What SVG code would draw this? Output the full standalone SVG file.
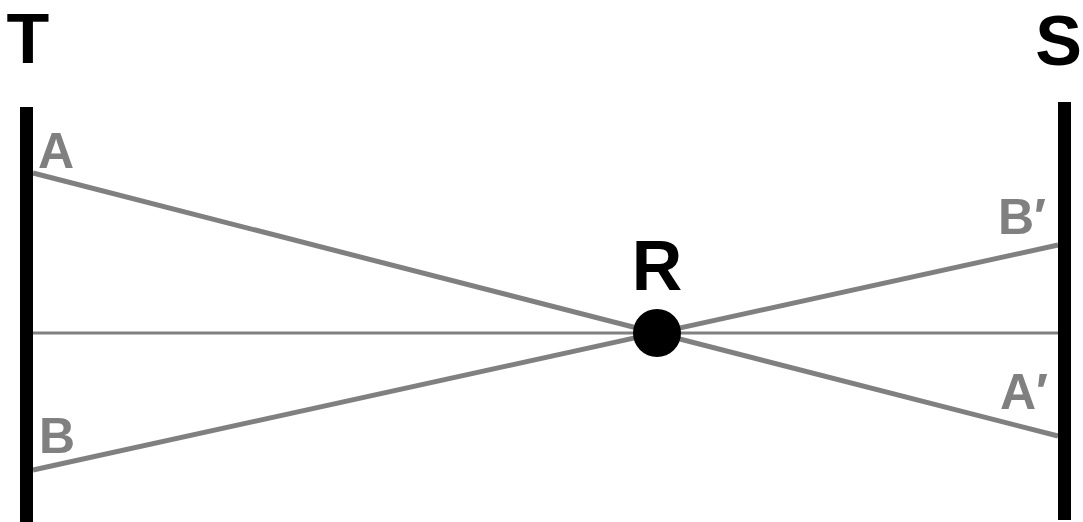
<svg xmlns="http://www.w3.org/2000/svg" width="1083" height="522" viewBox="0 0 1083 522">
<style>
.big{font-family:"Liberation Sans","DejaVu Sans",sans-serif;font-weight:bold;font-size:70px;fill:#000}
.lab{font-family:"Liberation Sans","DejaVu Sans",sans-serif;font-weight:bold;font-size:50px;fill:#808080}
.ray{stroke:#808080;stroke-width:5;fill:none}
.axis{stroke:#808080;stroke-width:3;fill:none}
.bar{fill:#000}
</style>
<rect width="1083" height="522" fill="#fff"/>
<g id="connectors">
<line class="axis" x1="33" y1="333" x2="1058" y2="333"/>
<line class="ray" x1="33" y1="173" x2="1058" y2="436"/>
<line class="ray" x1="33" y1="470" x2="1058" y2="245"/>
</g>
<g id="T">
<rect class="bar" x="20" y="107" width="13" height="415"/>
<text class="big" x="28" y="63" text-anchor="middle">T</text>
</g>
<g id="S">
<rect class="bar" x="1058" y="102" width="13" height="418"/>
<text class="big" x="1082" y="65" text-anchor="end">S</text>
</g>
<g id="R">
<circle cx="657" cy="333" r="24" fill="#000"/>
<text class="big" x="657" y="290" text-anchor="middle">R</text>
</g>
<g id="A"><text class="lab" x="56" y="168" text-anchor="middle">A</text></g>
<g id="B"><text class="lab" x="57" y="453" text-anchor="middle">B</text></g>
<g id="Bp"><text class="lab" x="1022" y="234" text-anchor="middle">B′</text></g>
<g id="Ap"><text class="lab" x="1024" y="409" text-anchor="middle">A′</text></g>
</svg>
